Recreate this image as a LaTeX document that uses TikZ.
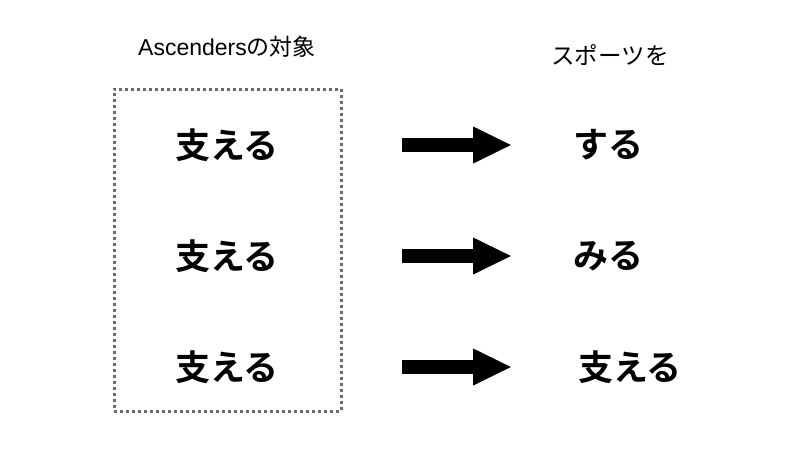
\documentclass[tikz,border=0pt]{standalone}
\usepackage{fontspec}
\setmainfont{Liberation Sans}
\newfontfamily\jpfont{Noto Sans CJK JP}
\newfontfamily\jpbold{Noto Sans CJK JP Bold}
\usetikzlibrary{arrows.meta}
\begin{document}
\begin{tikzpicture}[x=1pt, y=-1pt,
  word/.style = {font=\jpbold\fontsize{35}{40}\selectfont, inner sep=0pt},
  head/.style = {font=\fontsize{23}{27}\selectfont, inner sep=0pt},
  frame/.style = {draw=black!58, line width=3pt, dash pattern=on 3pt off 3pt, minimum width=227pt, minimum height=322pt, inner sep=0pt},
  fat/.style = {line width=14pt, -{Triangle[length=39pt 0, width=34pt 0]}}]
\useasboundingbox (0,0) rectangle (800,453);
% left column
\node[frame] (box) at (227.5,250) {};
\node[head] (target) at (227,47) {Ascenders{\jpfont の対象}};
\node[word] (s1) at (227,145) {支える};
\node[word] (s2) at (227,256) {支える};
\node[word] (s3) at (227,367) {支える};
% right column
\node[head] (sport) at (610,55) {\jpfont\fontsize{23.5}{27}\selectfont スポーツを};
\node[word] (t1) at (608,145) {する};
\node[word] (t2) at (608,256) {みる};
\node[word] (t3) at (630,367) {支える};
% arrows
\foreach \i/\y in {1/145, 2/256, 3/367} {
  \coordinate (a\i) at (402,\y);
  \coordinate (b\i) at (512,\y);
  \draw[fat] (a\i) -- (b\i);
}
\end{tikzpicture}
\end{document}
